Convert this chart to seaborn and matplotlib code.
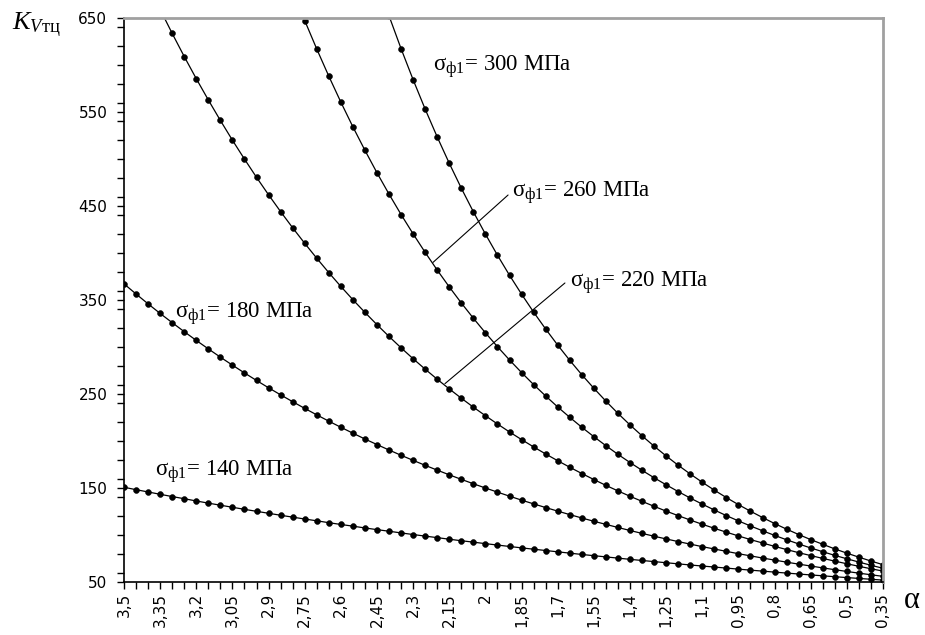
import matplotlib
matplotlib.use("Agg")
import matplotlib.pyplot as plt
import seaborn as sns
import pandas as pd
from matplotlib.ticker import FixedLocator, MultipleLocator, NullFormatter

# Relative collision coefficient vs. alpha for five flow stresses
alpha = [3.50, 3.45, 3.40, 3.35, 3.30, 3.25, 3.20, 3.15, 3.10, 3.05,
         3.00, 2.95, 2.90, 2.85, 2.80, 2.75, 2.70, 2.65, 2.60, 2.55,
         2.50, 2.45, 2.40, 2.35, 2.30, 2.25, 2.20, 2.15, 2.10, 2.05,
         2.00, 1.95, 1.90, 1.85, 1.80, 1.75, 1.70, 1.65, 1.60, 1.55,
         1.50, 1.45, 1.40, 1.35, 1.30, 1.25, 1.20, 1.15, 1.10, 1.05,
         1.00, 0.95, 0.90, 0.85, 0.80, 0.75, 0.70, 0.65, 0.60, 0.55,
         0.50, 0.45, 0.40, 0.35]

k_140 = [150.8, 148.2, 145.8, 143.3, 140.9, 138.6, 136.2, 133.9, 131.7, 129.5,
         127.3, 125.2, 123.1, 121.0, 119.0, 117.0, 115.1, 113.1, 111.2, 109.4,
         107.5, 105.7, 104.0, 102.2, 100.5, 98.8, 97.2, 95.5, 93.9, 92.4,
         90.8, 89.3, 87.8, 86.3, 84.9, 83.5, 82.1, 80.7, 79.3, 78.0,
         76.7, 75.4, 74.1, 72.9, 71.7, 70.5, 69.3, 68.1, 67.0, 65.9,
         64.8, 63.7, 62.6, 61.6, 60.5, 59.5, 58.5, 57.5, 56.6, 55.6,
         54.7, 53.8, 52.9, 52.0]

k_180 = [367.2, 356.4, 345.9, 335.7, 325.9, 316.3, 307.0, 298.0, 289.2, 280.7,
         272.4, 264.4, 256.6, 249.1, 241.8, 234.7, 227.8, 221.1, 214.6, 208.3,
         202.1, 196.2, 190.4, 184.8, 179.4, 174.1, 169.0, 164.0, 159.2, 154.5,
         150.0, 145.6, 141.3, 137.1, 133.1, 129.2, 125.4, 121.7, 118.1, 114.6,
         111.3, 108.0, 104.8, 101.7, 98.7, 95.8, 93.0, 90.3, 87.6, 85.1,
         82.6, 80.1, 77.8, 75.5, 73.3, 71.1, 69.0, 67.0, 65.0, 63.1,
         61.2, 59.4, 57.7, 56.0]

# from alpha = 3.35 down to 0.35
k_220 = [659.1, 633.6, 609.0, 585.4, 562.8, 541.0, 520.0, 499.9, 480.5, 461.9,
         444.0, 426.8, 410.3, 394.4, 379.1, 364.4, 350.3, 336.8, 323.7, 311.2,
         299.1, 287.5, 276.4, 265.7, 255.4, 245.5, 236.0, 226.9, 218.1, 209.6,
         201.5, 193.7, 186.2, 179.0, 172.1, 165.4, 159.0, 152.8, 146.9, 141.2,
         135.8, 130.5, 125.4, 120.6, 115.9, 111.4, 107.1, 103.0, 99.0, 95.1,
         91.5, 87.9, 84.5, 81.2, 78.1, 75.1, 72.2, 69.4, 66.7, 64.1,
         61.6]

# from alpha = 2.80 down to 0.35
k_260 = [679.2, 647.3, 617.0, 588.1, 560.5, 534.2, 509.2, 485.3, 462.6, 440.9,
         420.3, 400.6, 381.8, 363.9, 346.8, 330.6, 315.1, 300.3, 286.2, 272.8,
         260.0, 247.9, 236.2, 225.2, 214.6, 204.6, 195.0, 185.8, 177.1, 168.8,
         160.9, 153.4, 146.2, 139.3, 132.8, 126.6, 120.6, 115.0, 109.6, 104.5,
         99.6, 94.9, 90.5, 86.2, 82.2, 78.3, 74.7, 71.2, 67.8, 64.6]

# from alpha = 2.45 down to 0.35
k_300 = [689.1, 652.2, 617.3, 584.3, 553.0, 523.4, 495.4, 468.9, 443.8, 420.1,
         397.6, 376.3, 356.2, 337.1, 319.1, 302.0, 285.8, 270.5, 256.1, 242.4,
         229.4, 217.1, 205.5, 194.5, 184.1, 174.2, 164.9, 156.1, 147.7, 139.8,
         132.3, 125.3, 118.6, 112.2, 106.2, 100.5, 95.1, 90.1, 85.2, 80.7,
         76.4, 72.3, 68.4]

stresses = [140, 180, 220, 260, 300]
series = [k_140, k_180, k_220, k_260, k_300]

x_tick_labels = ["3,5", "3,35", "3,2", "3,05", "2,9", "2,75", "2,6", "2,45",
                 "2,3", "2,15", "2", "1,85", "1,7", "1,55", "1,4", "1,25",
                 "1,1", "0,95", "0,8", "0,65", "0,5", "0,35"]
y_ticks = [50, 150, 250, 350, 450, 550, 650]

# curve labels: (stress, text x, text baseline y)
label_pos = [(140, 3.371, 162.8), (180, 3.288, 330.9), (220, 1.649, 363.8),
             (260, 1.890, 459.6), (300, 2.2176, 593.6)]
# leader lines from a curve to its label
leaders = [((2.2176, 1.906), (390.0, 461.7)),
           ((2.168, 1.670), (261.0, 368.1))]

sns.set_theme(style="white")
plt.rcParams["font.family"] = ["DejaVu Sans"]
plt.rcParams["mathtext.fontset"] = "custom"
plt.rcParams["mathtext.rm"] = "Liberation Serif"
plt.rcParams["mathtext.it"] = "Liberation Serif:italic"
plt.rcParams["mathtext.bf"] = "Liberation Serif:bold"

fig = plt.figure(figsize=(9.25, 6.35), dpi=100)
fig.patch.set_facecolor("white")
ax = fig.add_axes([124 / 925, 1 - 582 / 635, 759 / 925, 564 / 635])
ax.set_facecolor("white")

frames = []
for s, vals in zip(stresses, series):
    frames.append(pd.DataFrame({"alpha": alpha[-len(vals):], "K": vals, "sigma": s}))
data = pd.concat(frames, ignore_index=True)

for s in stresses:
    sub = data[data["sigma"] == s]
    sns.lineplot(data=sub, x="alpha", y="K", ax=ax, color="black",
                 linewidth=0.9, marker="o", markersize=4.2,
                 markeredgecolor="black", markeredgewidth=0.4,
                 sort=False, estimator=None, legend=False)

for (xs, ys) in leaders:
    ax.plot(xs, ys, color="black", linewidth=0.8)

for s, tx, ty in label_pos:
    ax.text(tx, ty, r"$\mathrm{σ}_{\mathrm{ф1}}$" + f"= {s} МПа",
            family="Liberation Serif", fontsize=16.5, ha="left", va="baseline",
            color="black")

ax.set_xlim(3.5, 0.35)
ax.set_ylim(50, 650)
ax.xaxis.set_major_locator(FixedLocator(alpha))
full_labels = []
for i in range(len(alpha)):
    full_labels.append(x_tick_labels[i // 3] if i % 3 == 0 else "")
ax.set_xticklabels(full_labels, rotation=90, fontsize=11)
ax.set_yticks(y_ticks)
ax.set_yticklabels([str(v) for v in y_ticks], fontsize=11)
ax.yaxis.set_minor_locator(MultipleLocator(20))
ax.yaxis.set_minor_formatter(NullFormatter())
ax.tick_params(axis="both", which="both", direction="out", length=5,
               width=1, color="black", labelcolor="black",
               bottom=True, left=True, top=False, right=False)
ax.tick_params(axis="y", which="major", pad=7)
ax.tick_params(axis="x", which="major", pad=3)
ax.set_xlabel("")
ax.set_ylabel("")
ax.grid(False)

for side in ("left", "bottom"):
    ax.spines[side].set_color("black")
    ax.spines[side].set_linewidth(1.2)
for side in ("top", "right"):
    ax.spines[side].set_color("#a0a0a0")
    ax.spines[side].set_linewidth(2)

fig.text(12 / 925, 1 - 30 / 635, r"$K_{V\mathrm{тц}}$", fontsize=19,
         ha="left", va="baseline", color="black")
fig.text(912 / 925, 1 - 600 / 635, "α", family="Liberation Serif",
         fontsize=22, ha="center", va="center", color="black")

fig.savefig("out.png", dpi=100, facecolor="white")
